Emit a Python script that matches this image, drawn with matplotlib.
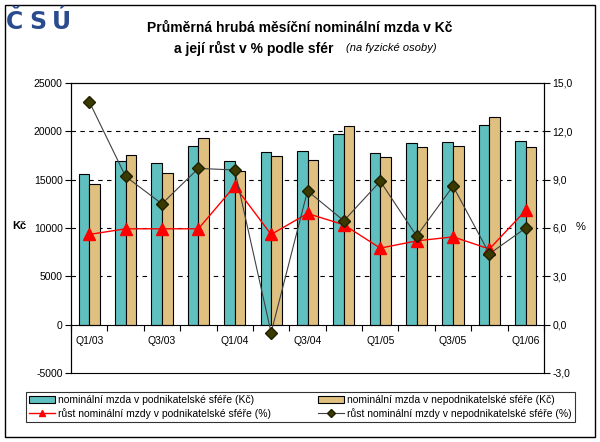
import numpy as np
import matplotlib
matplotlib.use("Agg")
import matplotlib.pyplot as plt
import matplotlib.patches as patches
from matplotlib.lines import Line2D

plt.rcParams["font.family"] = ["Liberation Sans", "DejaVu Sans"]
plt.rcParams["axes.unicode_minus"] = False

# data
quarters = ["Q1/03", "Q2/03", "Q3/03", "Q4/03", "Q1/04", "Q2/04", "Q3/04",
            "Q4/04", "Q1/05", "Q2/05", "Q3/05", "Q4/05", "Q1/06"]
tick_labels = ["Q1/03", "", "Q3/03", "", "Q1/04", "", "Q3/04",
               "", "Q1/05", "", "Q3/05", "", "Q1/06"]
mzda_podnik = [15570, 16940, 16700, 18460, 16940, 17840, 17970,
               19700, 17740, 18770, 18870, 20630, 18980]
mzda_nepodnik = [14530, 17530, 15670, 19290, 15910, 17430, 17050,
                 20530, 17320, 18360, 18460, 21460, 18360]
rust_podnik = [5.6, 5.95, 5.95, 5.95, 8.6, 5.6, 6.9,
               6.2, 4.75, 5.2, 5.45, 4.7, 7.1]
rust_nepodnik = [13.85, 9.2, 7.5, 9.7, 9.6, -0.5, 8.3,
                 6.45, 8.9, 5.5, 8.6, 4.4, 6.0]
left_ticks = [-5000, 0, 5000, 10000, 15000, 20000, 25000]
right_ticks = [-3, 0, 3, 6, 9, 12, 15]
right_labels = ["-3,0", "0,0", "3,0", "6,0", "9,0", "12,0", "15,0"]

teal = "#60C0C0"
tan = "#E0C080"

fig = plt.figure(figsize=(6, 4.42), dpi=100)
fig.patch.set_facecolor("white")
ax = fig.add_axes([71/600, 1-373/442, (544-71)/600, (373-83)/442])

x = np.arange(len(quarters))
w = 0.29
b1 = ax.bar(x - w/2, mzda_podnik, w, color=teal, edgecolor="black", linewidth=0.8, zorder=2)
b2 = ax.bar(x + w/2, mzda_nepodnik, w, color=tan, edgecolor="black", linewidth=0.8, zorder=2)

ax.set_xlim(-0.5, len(quarters) - 0.5)
ax.set_ylim(-5000, 25000)
ax.set_yticks(left_ticks)
ax.tick_params(axis="y", labelsize=7.5, length=4, width=0.8, pad=2)
ax.set_axisbelow(True)
for yv in left_ticks[2:-1]:
    ax.axhline(yv, color="black", linestyle=(0, (4, 4)), linewidth=0.8, zorder=1)

ax.spines["bottom"].set_position(("data", 0))
ax.set_xticks(np.arange(-0.5, len(quarters), 1))
ax.set_xticklabels([])
ax.set_xticks(x, minor=True)
ax.set_xticklabels(tick_labels, minor=True)
ax.tick_params(axis="x", which="major", length=4, width=0.8, direction="out")
ax.tick_params(axis="x", which="minor", length=0, labelsize=7.5, pad=8)

ax2 = ax.twinx()
ax2.set_ylim(-3, 15)
ax2.set_yticks(right_ticks)
ax2.set_yticklabels(right_labels)
ax2.tick_params(axis="y", labelsize=7.5, length=4, width=0.8, pad=2)
l1, = ax2.plot(x, rust_podnik, color="#FF0000", linewidth=1, marker="^",
               markersize=8, markerfacecolor="#FF0000", markeredgecolor="#FF0000", zorder=3)
l2, = ax2.plot(x, rust_nepodnik, color="#404040", linewidth=0.8, marker="D",
               markersize=6.5, markerfacecolor="#3A3A00", markeredgecolor="#202000", zorder=4)
for s in ax2.spines.values():
    s.set_linewidth(0.8)
for s in ax.spines.values():
    s.set_linewidth(0.8)

# axis titles
fig.text(19/600, 1-226/442, "Kč", fontsize=8, fontweight="bold", ha="center", va="center")
fig.text(581/600, 1-227/442, "%", fontsize=8, ha="center", va="center")

# chart title
fig.text(0.5, 1-28/442, "Průměrná hrubá měsíční nominální mzda v Kč",
         fontsize=10, fontweight="bold", ha="center", va="center")
fig.text(333/600, 1-48/442, "a její růst v % podle sfér",
         fontsize=10, fontweight="bold", ha="right", va="center")
fig.text(346/600, 1-48/442, "(na fyzické osoby)",
         fontsize=8, style="italic", ha="left", va="center")

# logo
for i, ch in enumerate("ČSÚ"):
    fig.text((6 + 23*i)/600, 1-29/442, ch, fontsize=17, fontweight="heavy", color="#2A4B8D",
             family="DejaVu Sans", ha="left", va="baseline")

# legend
h_red = Line2D([], [], color="#FF0000", linewidth=1, marker="^", markersize=5)
h_olive = Line2D([], [], color="#404040", linewidth=0.8, marker="D", markersize=4,
                 markerfacecolor="#3A3A00", markeredgecolor="#202000")
leg = fig.legend([b1, h_red, b2, h_olive],
                 ["nominální mzda v podnikatelské sféře (Kč)",
                  "růst nominální mzdy v podnikatelské sféře (%)",
                  "nominální mzda v nepodnikatelské sféře (Kč)",
                  "růst nominální mzdy v nepodnikatelské sféře (%)"],
                 ncol=2, mode="expand", fontsize=7.5, frameon=True, fancybox=False,
                 bbox_to_anchor=(25.7/600, 1-422/442, (575-25.7)/600, (422-390.7)/442),
                 loc="lower left", borderaxespad=0, handlelength=2.5, handletextpad=0.3,
                 labelspacing=0.3, borderpad=0.3)
leg.get_frame().set_edgecolor("black")
leg.get_frame().set_linewidth(0.8)

# outer frame
fig.patches.append(patches.Rectangle((5/600, 5/442), 590/600, 432/442, fill=False,
                                     edgecolor="black", linewidth=1, transform=fig.transFigure))

fig.savefig("out.png", dpi=100)
